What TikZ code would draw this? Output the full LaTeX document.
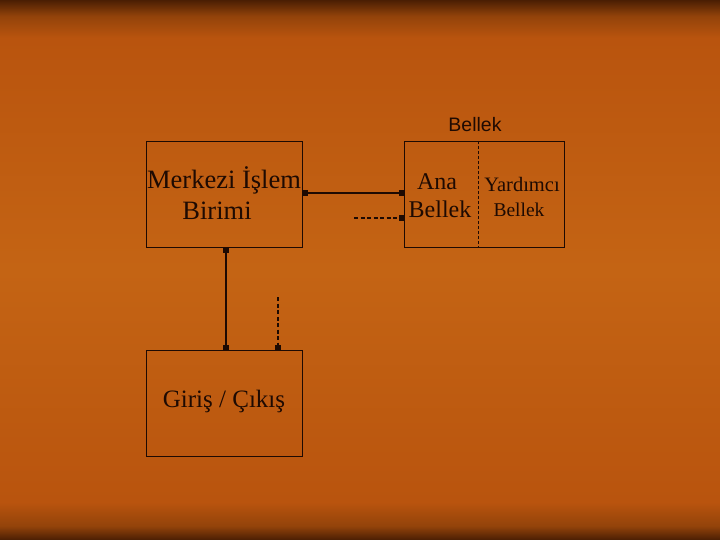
\documentclass[tikz,border=0pt]{standalone}
\usepackage{fontspec}
\setmainfont{Liberation Serif}
\newfontfamily\sansf{Liberation Sans}
\usetikzlibrary{arrows.meta}
\definecolor{bgdark}{HTML}{4A1E03}
\definecolor{bgmid}{HTML}{93430A}
\definecolor{bgmain}{HTML}{B9540E}
\definecolor{bgmain2}{HTML}{C46414}
\definecolor{ink}{HTML}{1E0A02}
\pgfdeclareverticalshading{bgshade}{100bp}{
  color(0bp)=(bgdark);
  color(25bp)=(bgdark);
  color(26.3bp)=(bgmid);
  color(28.5bp)=(bgmain);
  color(50bp)=(bgmain2);
  color(71.5bp)=(bgmain);
  color(73.5bp)=(bgmid);
  color(75bp)=(bgdark);
  color(100bp)=(bgdark)}
\tikzset{
  box/.style={draw=ink, line width=0.9pt},
  conn/.style={draw=ink, line width=1.2pt, {Square[length=5pt,width=6pt]}-{Square[length=5pt,width=6pt]}},
  dconn/.style={draw=ink, line width=1.2pt, dash pattern=on 4pt off 2.5pt, -{Square[length=5pt,width=6pt]}},
  txt/.style={text=ink, font=\fontsize{26.5}{28}\selectfont, align=center, inner sep=0pt},
}
\begin{document}
\begin{tikzpicture}[x=1pt,y=-1pt]
\useasboundingbox (0,0) rectangle (720,540);
\fill[shading=bgshade] (0,0) rectangle (720,540);
% boxes
\node[box, minimum width=156pt, minimum height=106pt, anchor=north west, inner sep=0pt] (cpu) at (146,141) {};
\node[box, minimum width=160pt, minimum height=106pt, anchor=north west, inner sep=0pt] (mem) at (404,141) {};
\node[box, minimum width=156pt, minimum height=106pt, anchor=north west, inner sep=0pt] (io) at (146,350) {};
% divider
\coordinate (dtop) at (478,141);
\coordinate (dbot) at (478,247);
\draw[draw=ink, line width=0.6pt, dash pattern=on 3pt off 2pt] (dtop) -- (dbot);
% texts
\node[txt] (t1) at (224,180) {Merkezi İşlem};
\node[txt] (t2) at (217,211) {Birimi};
\node[txt, font=\fontsize{24}{26}\selectfont] (t3) at (437,182) {Ana};
\node[txt, font=\fontsize{24}{26}\selectfont] (t4) at (440,209) {Bellek};
\node[txt, font=\fontsize{20.5}{22}\selectfont] (t5) at (522,184) {Yardımcı};
\node[txt, font=\fontsize{19.5}{21}\selectfont] (t6) at (519,210) {Bellek};
\node[txt, font=\sansf\fontsize{19.5}{21}\selectfont] (t7) at (475,125) {Bellek};
\node[txt, font=\fontsize{25}{27}\selectfont] (t8) at (224,401) {Giriş / Çıkış};
% connectors
\draw[conn] (cpu.east |- 0,193) -- (mem.west |- 0,193);
\coordinate (ds) at (354,218);
\draw[dconn] (ds) -- (mem.west |- 0,218);
\draw[conn] (cpu.south -| 226,0) -- (io.north -| 226,0);
\coordinate (vs) at (278,297);
\draw[dconn] (vs) -- (io.north -| 278,0);
\end{tikzpicture}
\end{document}
